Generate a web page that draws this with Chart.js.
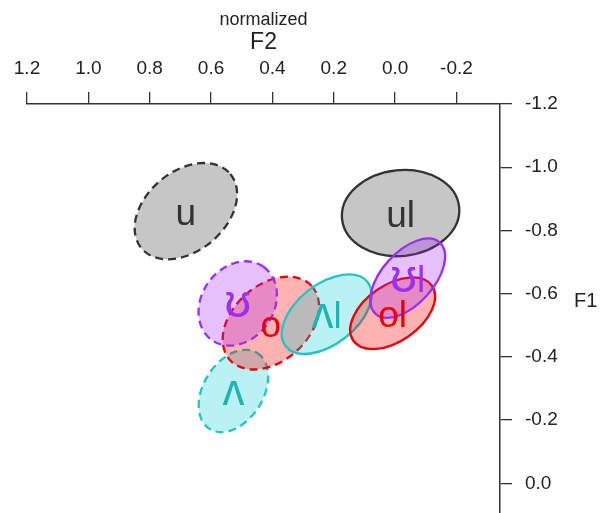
<!DOCTYPE html>
<html>
<head>
<meta charset="utf-8">
<script src="https://cdn.jsdelivr.net/npm/chart.js@4"></script>
<style>
  html, body { margin: 0; padding: 0; background: #fff; }
  #wrap { width: 600px; height: 513px; }
</style>
</head>
<body>
<div id="wrap"><canvas id="vowelChart"></canvas></div>
<script>
// vowel categories
var vowels = ['u', 'ul', 'ʌ', 'o', 'ʊ', 'ʌl', 'ol', 'ʊl'];
// ellipse centres (normalized F2, normalized F1)
var f2Center = [0.682, -0.018, 0.527, 0.405, 0.513, 0.223, 0.008, -0.041];
var f1Center = [-0.861, -0.855, -0.292, -0.507, -0.569, -0.535, -0.538, -0.649];
// spread of each vowel: semi axes (normalized units) and tilt (deg)
var semiMajor = [0.186, 0.189, 0.144, 0.177, 0.144, 0.167, 0.154, 0.154];
var semiMinor = [0.128, 0.138, 0.096, 0.122, 0.116, 0.096, 0.090, 0.083];
var tiltDeg = [-40, -6, -58, -42, -55, -38, -35, -48];
var xTickValues = [1.2, 1.0, 0.8, 0.6, 0.4, 0.2, 0.0, -0.2];
var yTickValues = [-1.2, -1.0, -0.8, -0.6, -0.4, -0.2, 0.0];

var FONT = "'Liberation Sans', 'DejaVu Sans', Arial, sans-serif";

var palette = {
  gray:   { line: '#333333', fill: 'rgba(128,128,128,0.45)', text: '#333333' },
  cyan:   { line: '#22c4c4', fill: 'rgba(0,206,209,0.27)',   text: '#1fb4b4' },
  red:    { line: '#e8000b', fill: 'rgba(255,0,0,0.30)',     text: '#e8000b' },
  purple: { line: '#9b30ef', fill: 'rgba(160,32,240,0.28)',  text: '#9b30ef' }
};
var vowelColor = ['gray', 'gray', 'cyan', 'red', 'purple', 'cyan', 'red', 'purple'];
var vowelDashed = [true, false, true, true, true, false, false, false];

// the IPA glyphs come out small, so they get a bigger size
function glyphSize(ch) {
  if (ch === 'ʊ') return 47;
  if (ch === 'ʌ') return 44;
  return 37;
}

function drawLabel(ctx, text, cx, cy) {
  var chars = Array.from(text);
  var widths = chars.map(function (ch) {
    ctx.font = glyphSize(ch) + 'px ' + FONT;
    return ctx.measureText(ch).width;
  });
  var total = widths.reduce(function (a, b) { return a + b; }, 0);
  var x = cx - total / 2;
  chars.forEach(function (ch, k) {
    ctx.font = glyphSize(ch) + 'px ' + FONT;
    ctx.fillText(ch, x, cy + 14);
    x += widths[k];
  });
}

// draws the ellipses, their labels and the axis titles
var ellipsePlugin = {
  id: 'ellipses',
  afterDatasetsDraw: function (chart) {
    var ctx = chart.ctx;
    var xs = chart.scales.x, ys = chart.scales.y;
    var pxX = Math.abs(xs.getPixelForValue(1) - xs.getPixelForValue(0));
    var pxY = Math.abs(ys.getPixelForValue(1) - ys.getPixelForValue(0));
    var px = (pxX + pxY) / 2;

    vowels.forEach(function (v, i) {
      var c = palette[vowelColor[i]];
      var cx = xs.getPixelForValue(f2Center[i]);
      var cy = ys.getPixelForValue(f1Center[i]);
      ctx.save();
      ctx.beginPath();
      ctx.ellipse(cx, cy, semiMajor[i] * px, semiMinor[i] * px, tiltDeg[i] * Math.PI / 180, 0, 2 * Math.PI);
      ctx.fillStyle = c.fill;
      ctx.fill();
      ctx.setLineDash(vowelDashed[i] ? [8, 5] : []);
      ctx.lineWidth = 2.3;
      ctx.strokeStyle = c.line;
      ctx.stroke();
      ctx.restore();
    });

    ctx.save();
    ctx.textAlign = 'left';
    ctx.textBaseline = 'alphabetic';
    vowels.forEach(function (v, i) {
      ctx.fillStyle = palette[vowelColor[i]].text;
      drawLabel(ctx, v, xs.getPixelForValue(f2Center[i]), ys.getPixelForValue(f1Center[i]));
    });

    // axis titles
    var mid = (xs.left + xs.right) / 2;
    ctx.fillStyle = '#222';
    ctx.textAlign = 'center';
    ctx.font = '18px ' + FONT;
    ctx.fillText('normalized', mid, 25);
    ctx.font = '23px ' + FONT;
    ctx.fillText('F2', mid, 49);
    ctx.textAlign = 'left';
    ctx.font = '20px ' + FONT;
    ctx.fillText('F1', 574, 307);
    ctx.restore();
  }
};

var axisGrid = { drawOnChartArea: false, drawTicks: true, tickLength: 12, color: '#333', lineWidth: 1.3 };
var axisBorder = { display: true, color: '#333', width: 1.5 };

var ctx = document.getElementById('vowelChart').getContext('2d');
var chart = new Chart(ctx, {
  type: 'scatter',
  data: {
    datasets: [{
      label: 'vowels',
      data: vowels.map(function (v, i) { return { x: f2Center[i], y: f1Center[i] }; }),
      pointRadius: 0,
      pointHoverRadius: 0
    }]
  },
  options: {
    responsive: true,
    maintainAspectRatio: false,
    animation: false,
    layout: { padding: { left: 27, right: 0, top: 0, bottom: 0 } },
    plugins: { legend: { display: false }, tooltip: { enabled: false } },
    scales: {
      x: {
        type: 'linear',
        position: 'top',
        reverse: true,
        min: -0.342,
        max: 1.2,
        grid: axisGrid,
        border: axisBorder,
        ticks: {
          font: { size: 19, family: FONT },
          color: '#222',
          padding: 12,
          maxRotation: 0,
          callback: function (v) { return v.toFixed(1); }
        },
        afterBuildTicks: function (scale) {
          scale.ticks = xTickValues.map(function (v) { return { value: v }; });
        },
        afterFit: function (scale) {
          scale.height = 104;
          scale.paddingLeft = 0;
          scale.paddingRight = 0;
        }
      },
      y: {
        type: 'linear',
        position: 'right',
        reverse: true,
        min: -1.2,
        max: 0.094,
        grid: axisGrid,
        border: axisBorder,
        ticks: {
          font: { size: 19, family: FONT },
          color: '#222',
          padding: 13,
          callback: function (v) { return v.toFixed(1); }
        },
        afterBuildTicks: function (scale) {
          scale.ticks = yTickValues.map(function (v) { return { value: v }; });
        },
        afterFit: function (scale) {
          scale.width = 100;
          scale.paddingTop = 0;
          scale.paddingBottom = 0;
        }
      }
    }
  },
  plugins: [ellipsePlugin]
});
</script>
</body>
</html>
